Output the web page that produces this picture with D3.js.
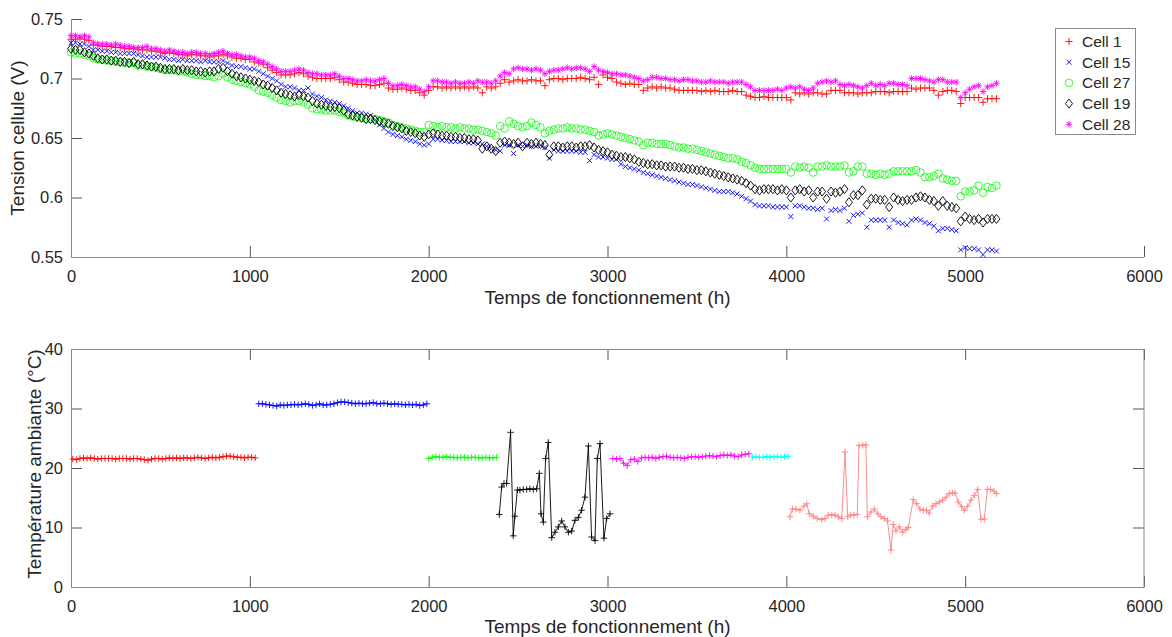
<!DOCTYPE html>
<html>
<head>
<meta charset="utf-8">
<script src="https://cdn.jsdelivr.net/npm/d3@7"></script>
<style>
html,body{margin:0;padding:0;background:#fff;}
svg{display:block;font-family:"Liberation Sans",Arial,Helvetica,sans-serif;}
</style>
</head>
<body>
<svg id="chart" width="1172" height="637"></svg>
<script>
// ---------- DATA: top panel (cell voltages, mV) ----------
const hoursTop = [
0,25,50,75,100,125,150,175,200,225,250,275,300,325,350,375,400,425,450,475,
500,525,550,575,600,625,650,675,700,725,750,775,800,825,850,875,900,925,950,975,
1000,1025,1050,1075,1100,1125,1150,1175,1200,1225,1250,1275,1300,1325,1350,1375,1400,1425,1450,1475,
1500,1525,1550,1575,1600,1625,1650,1675,1700,1725,1750,1775,1800,1825,1850,1875,1900,1925,1950,1975,
2000,2025,2050,2075,2100,2125,2150,2175,2200,2225,2250,2275,2300,2325,2350,2375,2400,2425,2450,2475,
2500,2525,2550,2575,2600,2625,2650,2675,2700,2725,2750,2775,2800,2825,2850,2875,2900,2925,2950,2975,
3000,3025,3050,3075,3100,3125,3150,3175,3200,3225,3250,3275,3300,3325,3350,3375,3400,3425,3450,3475,
3500,3525,3550,3575,3600,3625,3650,3675,3700,3725,3750,3775,3800,3825,3850,3875,3900,3925,3950,3975,
4000,4025,4050,4075,4100,4125,4150,4175,4200,4225,4250,4275,4300,4325,4350,4375,4400,4425,4450,4475,
4500,4525,4550,4575,4600,4625,4650,4675,4700,4725,4750,4775,4800,4825,4850,4875,4900,4925,4950,4975,
5000,5025,5050,5075,5100,5125,5150,5175];

const cell1 = [
733,733,734,733,732,728,728,727,727,727,726,726,725,725,725,724,724,724,723,723,
722,721,722,721,720,720,719,720,720,719,719,718,719,719,720,719,718,717,717,716,
716,714,713,712,709,707,705,703,703,703,704,705,704,702,701,700,700,700,700,701,
699,697,697,696,695,695,695,694,694,695,696,692,691,691,692,691,690,690,688,686,
690,693,693,692,693,692,693,692,693,692,693,692,688,693,692,693,696,699,697,698,
699,698,698,699,698,698,694,699,700,700,699,700,700,700,701,700,699,701,695,703,
701,700,697,696,695,696,695,695,690,692,693,692,693,692,692,691,690,690,690,690,
690,689,690,689,690,689,689,689,690,689,689,686,685,684,684,685,684,684,684,684,
684,682,688,687,688,687,688,688,687,687,690,690,690,688,688,688,687,688,688,688,
689,689,689,688,689,689,689,689,692,691,692,692,692,690,686,689,690,690,689,679,
684,684,684,684,680,683,683,683];

const cell15 = [
730,730,729,729,727,724,724,723,723,722,722,721,721,721,721,720,719,718,718,718,
718,717,716,716,715,716,715,715,715,714,715,714,714,714,715,713,711,710,710,709,
708,708,706,704,702,700,698,695,693,693,692,690,690,692,687,685,684,682,681,680,
679,677,675,673,671,671,670,669,665,661,658,655,653,652,651,649,648,647,645,644,
645,649,649,648,648,647,647,647,647,646,646,645,645,643,641,640,639,644,644,637,
644,643,644,643,643,644,642,633,640,639,639,639,639,639,638,638,631,636,634,634,
633,632,632,628,626,625,624,623,621,620,619,618,617,616,615,614,613,612,611,611,
610,609,608,607,606,605,605,605,604,603,601,599,597,594,593,593,593,592,592,592,
592,584,593,593,592,591,591,590,591,582,589,590,589,591,580,585,586,587,575,581,
581,581,581,575,581,579,578,577,581,582,581,579,578,576,572,574,574,573,572,556,
558,557,557,556,552,556,556,555];

const cell27 = [
722,721,721,720,719,717,716,716,715,715,714,714,713,713,713,711,711,710,710,709,
708,707,707,707,706,706,705,704,703,703,702,702,701,702,704,701,699,698,697,696,
695,693,690,689,688,686,684,682,681,680,681,681,680,678,675,674,674,673,673,673,
672,671,669,668,667,667,666,666,666,665,664,663,661,660,659,658,657,656,655,655,
661,660,659,660,659,659,658,659,658,658,657,657,656,655,654,652,660,658,664,662,
660,659,660,663,661,659,654,656,657,658,658,659,658,658,657,657,656,655,652,653,
654,653,652,651,650,649,648,647,644,646,646,645,645,645,644,643,642,642,641,641,
640,639,638,637,636,635,634,633,633,632,630,629,627,625,624,624,624,624,624,624,
624,621,626,625,626,625,621,626,626,627,626,626,626,627,621,622,626,626,620,620,
619,620,619,620,622,622,622,622,622,623,621,617,617,618,620,616,615,614,614,601,
605,605,606,610,604,609,608,610];

const cell19 = [
725,724,724,722,721,719,717,716,716,715,715,714,714,713,714,712,712,711,710,710,
709,708,708,708,707,708,707,707,706,706,705,706,706,708,709,706,704,702,701,700,
699,698,697,695,694,692,690,688,687,686,685,686,685,684,681,679,678,677,676,676,
675,673,670,669,668,667,666,666,665,664,663,662,660,659,658,656,655,654,652,651,
653,654,653,652,652,651,651,650,650,649,649,648,641,643,641,639,646,647,646,645,
646,643,646,645,646,645,644,636,643,643,642,643,643,642,643,643,644,642,640,639,
638,636,635,634,634,633,632,630,629,628,628,627,627,626,626,626,625,625,624,624,
623,623,622,621,620,619,618,617,616,615,614,612,610,607,606,607,607,607,606,607,
606,600,606,607,605,606,600,605,605,599,605,604,605,607,596,602,602,606,594,599,
599,598,598,592,600,598,597,598,598,600,601,600,598,597,593,597,593,592,591,580,
584,582,581,582,579,582,582,582];

const cell28 = [
736,736,735,736,735,730,729,729,729,728,729,728,727,727,726,726,726,727,725,725,
724,723,724,723,722,722,721,722,722,721,721,720,721,722,723,721,720,720,719,718,
718,717,715,714,712,710,708,706,706,706,707,708,707,705,704,704,703,703,703,704,
702,700,700,699,698,698,699,698,698,699,700,696,694,694,695,694,693,693,691,689,
693,698,698,697,697,696,697,696,696,697,696,698,697,697,696,698,702,705,704,708,
709,708,708,707,708,707,704,706,707,707,708,709,708,709,709,708,706,710,707,706,
705,704,704,703,703,702,701,700,698,699,701,701,700,700,699,699,698,699,699,698,
698,697,697,698,697,697,697,696,697,697,697,695,693,690,690,690,690,690,691,690,
692,693,692,693,691,690,692,696,697,698,697,698,695,694,695,694,693,692,694,696,
694,695,694,696,696,695,695,694,700,700,700,699,698,697,699,699,697,697,697,684,
688,691,693,694,689,693,694,696];

const cellNames = ["Cell 1","Cell 15","Cell 27","Cell 19","Cell 28"];
const cellColors = ["#ff0000","#0000ff","#00ff00","#000000","#ff00ff"];
const cellMarkers = ["plus","cross","circle","diamond","star"];

// ---------- DATA: bottom panel (ambient temperature, °C) ----------
const tempHours1 = [10,30,50,70,90,110,130,150,170,190,210,230,250,270,290,310,330,350,370,390,410,430,450,470,490,510,530,550,570,590,610,630,650,670,690,710,730,750,770,790,810,830,850,870,890,910,930,950,970,990,1010,1030];
const tempValues1 = [21.5,21.4,21.6,21.7,21.6,21.7,21.6,21.5,21.6,21.6,21.6,21.6,21.5,21.6,21.6,21.6,21.5,21.6,21.6,21.5,21.4,21.3,21.5,21.6,21.6,21.5,21.6,21.7,21.6,21.7,21.6,21.7,21.7,21.6,21.7,21.8,21.7,21.6,21.7,21.8,21.7,21.8,21.9,22.0,22.0,21.9,21.8,21.8,21.7,21.8,21.8,21.7];

const tempHours2 = [1050,1070,1090,1110,1130,1150,1170,1190,1210,1230,1250,1270,1290,1310,1330,1350,1370,1390,1410,1430,1450,1470,1490,1510,1530,1550,1570,1590,1610,1630,1650,1670,1690,1710,1730,1750,1770,1790,1810,1830,1850,1870,1890,1910,1930,1950,1970,1990];
const tempValues2 = [30.8,30.8,30.7,30.6,30.5,30.4,30.6,30.5,30.6,30.6,30.7,30.6,30.7,30.8,30.7,30.5,30.6,30.8,30.6,30.6,30.7,30.8,31.0,31.1,31.1,31.0,30.9,30.8,30.9,30.8,30.8,30.9,31.0,30.8,30.8,30.9,30.8,30.7,30.8,30.7,30.7,30.6,30.7,30.6,30.7,30.5,30.6,30.8];

const tempHours3 = [2000,2020,2040,2060,2080,2100,2120,2140,2160,2180,2200,2220,2240,2260,2280,2300,2320,2340,2360,2380];
const tempValues3 = [21.6,21.8,21.9,21.8,21.8,21.9,21.8,21.8,21.7,21.8,21.8,21.7,21.8,21.8,21.7,21.7,21.8,21.7,21.7,21.8];

const tempHours4 = [2395,2408,2421,2436,2458,2473,2482,2496,2510,2529,2548,2566,2585,2604,2619,2628,2641,2654,2669,2688,2706,2725,2744,2762,2781,2800,2818,2837,2855,2874,2893,2911,2930,2943,2958,2980,2995,3014];
const tempValues4 = [12.2,16.8,17.4,17.4,26.0,8.6,11.9,16.3,16.3,16.4,16.4,16.5,16.4,16.5,19.1,12.3,10.9,21.6,24.3,8.3,9.2,10.1,11.1,10.1,9.2,9.4,11.2,11.7,12.9,15.1,23.7,8.4,7.8,21.6,24.1,8.2,11.5,12.3];

const tempHours5 = [3030,3050,3070,3090,3110,3130,3150,3170,3190,3210,3230,3250,3270,3290,3310,3330,3350,3370,3390,3410,3430,3450,3470,3490,3510,3530,3550,3570,3590,3610,3630,3650,3670,3690,3710,3730,3750,3770,3790];
const tempValues5 = [21.6,21.5,21.6,20.8,20.4,21.4,21.5,21.1,21.7,21.8,21.7,21.8,21.6,21.8,21.9,22.0,21.8,21.7,21.8,21.7,21.6,21.8,21.9,21.9,21.8,21.9,22.0,22.1,22.0,21.9,22.1,22.2,22.1,22.2,22.0,21.9,22.2,22.3,22.4];

const tempHours6 = [3810,3830,3850,3870,3890,3910,3930,3950,3970,3990,4010];
const tempValues6 = [21.8,21.9,21.8,21.8,21.9,21.8,21.9,21.9,21.8,21.9,21.9];

const tempHours7 = [4020,4034,4054,4076,4099,4114,4128,4151,4173,4198,4216,4235,4254,4272,4291,4310,4328,4343,4360,4378,4397,4406,4427,4445,4453,4473,4492,4511,4529,4548,4566,4585,4598,4613,4632,4650,4669,4682,4710,4729,4747,4766,4784,4799,4818,4837,4856,4874,4893,4911,4930,4943,4962,4980,4995,5014,5032,5051,5070,5088,5107,5124,5142,5161,5176];
const tempValues7 = [11.8,13.1,13.1,12.9,13.6,14.0,12.3,11.9,11.5,11.3,11.5,12.1,12.1,12.1,11.8,11.5,22.7,11.8,12.1,12.1,12.2,23.8,23.8,23.9,11.8,12.6,13.1,12.3,11.8,11.5,11.1,6.2,10.5,9.4,10.1,9.2,9.7,10.0,14.7,14.0,13.1,12.9,12.9,12.4,13.6,14.0,14.3,14.6,15.1,15.7,15.8,15.8,14.3,13.5,12.9,13.6,14.6,15.4,16.4,11.4,11.4,16.4,16.4,16.1,15.7];

const segColors = ["#ff0000","#0000ff","#00ff00","#000000","#ff00ff","#00ffff","#ff8080"];

const xTicks = [0,1000,2000,3000,4000,5000,6000];
const yTicksTop = [0.55,0.6,0.65,0.7,0.75];
const yTicksBottom = [0,10,20,30,40];
const xLabel = "Temps de fonctionnement (h)";
const yLabelTop = "Tension cellule (V)";
const yLabelBottom = "Température ambiante (°C)";

// ---------- DRAWING ----------
(function () {
const svg = d3.select("#chart");
const AXIS = "#8a8a8a", TICK = "#555", TXT = "#262626";
const TICKLEN = 11;

const x = d3.scaleLinear().domain([0,6000]).range([71,1144]);
const yTop = d3.scaleLinear().domain([0.55,0.75]).range([257,19]);
const yBot = d3.scaleLinear().domain([0,40]).range([587,349]);

function markerPath(type, s) {
  switch (type) {
    case "plus": return `M${-s},0H${s}M0,${-s}V${s}`;
    case "cross": return `M${-s},${-s}L${s},${s}M${-s},${s}L${s},${-s}`;
    case "diamond": return `M0,${-s*1.3}L${s},0L0,${s*1.3}L${-s},0Z`;
    case "star": { const d = s*0.72; return `M${-s},0H${s}M0,${-s}V${s}M${-d},${-d}L${d},${d}M${-d},${d}L${d},${-d}`; }
  }
  return "";
}
const markerSize = {plus:3.6, cross:2.5, circle:3.8, diamond:3.5, star:3.2};

function drawMarker(g, type, color) {
  if (type === "circle") {
    g.append("circle").attr("r", markerSize.circle).attr("fill","none").attr("stroke",color).attr("stroke-width",0.8);
  } else {
    g.append("path").attr("d", markerPath(type, markerSize[type])).attr("fill","none").attr("stroke",color).attr("stroke-width",0.9);
  }
}

function styleAxis(g, showLabels, fontSize) {
  g.select(".domain").remove();
  g.selectAll(".tick line").attr("stroke", TICK).attr("stroke-width", 1);
  g.selectAll(".tick text").attr("fill", TXT).style("font-size", fontSize + "px");
  if (!showLabels) g.selectAll(".tick text").remove();
}

// ---- TOP PANEL ----
const topG = svg.append("g");
topG.append("g").attr("transform","translate(0,257)")
  .call(d3.axisBottom(x).tickValues(xTicks).tickFormat(d3.format("d")).tickSizeInner(-TICKLEN).tickSizeOuter(0).tickPadding(13))
  .call(g => styleAxis(g, true, 16.5));
topG.append("g").attr("transform","translate(71,0)")
  .call(d3.axisLeft(yTop).tickValues(yTicksTop).tickFormat(d => String(+d.toFixed(2))).tickSizeInner(-TICKLEN).tickSizeOuter(0).tickPadding(8))
  .call(g => styleAxis(g, true, 16.5));
topG.append("line").attr("x1",71).attr("x2",1144).attr("y1",257.5).attr("y2",257.5).attr("stroke",AXIS);
topG.append("line").attr("x1",71.5).attr("x2",71.5).attr("y1",19).attr("y2",257.5).attr("stroke",AXIS);

const cellSeries = [cell1, cell15, cell27, cell19, cell28];
cellSeries.forEach((vals, si) => {
  const g = topG.append("g");
  const n = Math.min(vals.length, hoursTop.length);
  for (let i = 0; i < n; i++) {
    const m = g.append("g").attr("transform", `translate(${x(hoursTop[i])},${yTop(vals[i]/1000)})`);
    drawMarker(m, cellMarkers[si], cellColors[si]);
  }
});

topG.append("text").attr("x", 607.5).attr("y", 304).attr("text-anchor","middle")
  .attr("fill", TXT).style("font-size","19px").text(xLabel);
topG.append("text").attr("transform","translate(24,138) rotate(-90)").attr("text-anchor","middle")
  .attr("fill", TXT).style("font-size","19px").text(yLabelTop);

// legend
const leg = topG.append("g");
leg.append("rect").attr("x",1055.5).attr("y",28.5).attr("width",80).attr("height",106)
  .attr("fill","#fff").attr("stroke","#8a8a8a").attr("stroke-width",1);
cellNames.forEach((name, i) => {
  const cy = 41.5 + i*20.7;
  const m = leg.append("g").attr("transform", `translate(1069,${cy})`);
  drawMarker(m, cellMarkers[i], cellColors[i]);
  leg.append("text").attr("x",1082).attr("y",cy).attr("dy","0.36em")
    .attr("fill",TXT).style("font-size","15.5px").text(name);
});

// ---- BOTTOM PANEL ----
const botG = svg.append("g");
botG.append("g").attr("transform","translate(0,587)")
  .call(d3.axisBottom(x).tickValues(xTicks).tickFormat(d3.format("d")).tickSizeInner(-TICKLEN).tickSizeOuter(0).tickPadding(13))
  .call(g => styleAxis(g, true, 16.5));
botG.append("g").attr("transform","translate(0,349)")
  .call(d3.axisTop(x).tickValues(xTicks).tickSizeInner(-TICKLEN).tickSizeOuter(0))
  .call(g => styleAxis(g, false, 16.5));
botG.append("g").attr("transform","translate(71,0)")
  .call(d3.axisLeft(yBot).tickValues(yTicksBottom).tickFormat(d3.format("d")).tickSizeInner(-TICKLEN).tickSizeOuter(0).tickPadding(8))
  .call(g => styleAxis(g, true, 16.5));
botG.append("g").attr("transform","translate(1144,0)")
  .call(d3.axisRight(yBot).tickValues(yTicksBottom).tickSizeInner(-TICKLEN).tickSizeOuter(0))
  .call(g => styleAxis(g, false, 16.5));
botG.append("rect").attr("x",71.5).attr("y",349.5).attr("width",1144-71.5).attr("height",587.5-349.5)
  .attr("fill","none").attr("stroke",AXIS).attr("stroke-width",1);

const segments = [
  [tempHours1, tempValues1], [tempHours2, tempValues2], [tempHours3, tempValues3],
  [tempHours4, tempValues4], [tempHours5, tempValues5], [tempHours6, tempValues6],
  [tempHours7, tempValues7]
];
const line = d3.line().x(d => x(d[0])).y(d => yBot(d[1]));
segments.forEach(([hs, vs], si) => {
  const pts = hs.map((h, i) => [h, vs[i]]);
  const col = segColors[si];
  const g = botG.append("g");
  g.append("path").attr("d", line(pts)).attr("fill","none").attr("stroke",col).attr("stroke-width",0.9);
  pts.forEach(p => {
    g.append("path").attr("transform",`translate(${x(p[0])},${yBot(p[1])})`)
      .attr("d", markerPath("plus", 3.2)).attr("fill","none").attr("stroke",col).attr("stroke-width",0.9);
  });
});

botG.append("text").attr("x", 607.5).attr("y", 633).attr("text-anchor","middle")
  .attr("fill", TXT).style("font-size","19px").text(xLabel);
botG.append("text").attr("transform","translate(41,464) rotate(-90)").attr("text-anchor","middle")
  .attr("fill", TXT).style("font-size","19px").text(yLabelBottom);
})();
</script>
</body>
</html>
